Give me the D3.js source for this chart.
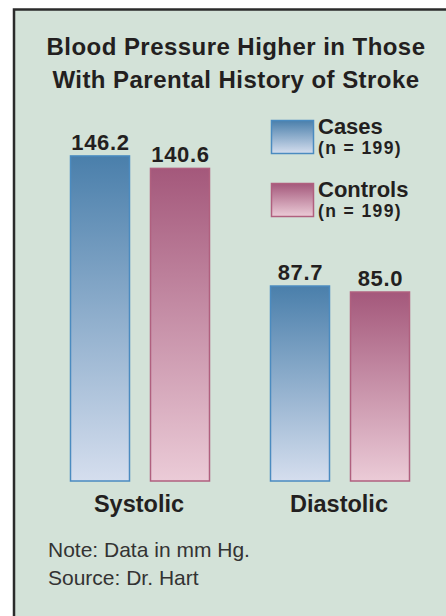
<!DOCTYPE html>
<html>
<head>
<meta charset="utf-8">
<script src="https://cdn.jsdelivr.net/npm/d3@7"></script>
<style>
  body { margin: 0; background: #fff; }
  text { font-family: "Liberation Sans", Arial, sans-serif; fill: #231f20; }
</style>
</head>
<body>
<div id="chart"></div>
<script>
// data
const categories = ["Systolic", "Diastolic"];
const seriesNames = ["Cases", "Controls"];
const seriesCounts = ["(n = 199)", "(n = 199)"];
const casesValues = [146.2, 87.7];
const controlsValues = [140.6, 85.0];
const titleLines = ["Blood Pressure Higher in Those", "With Parental History of Stroke"];
const noteLines = ["Note: Data in mm Hg.", "Source: Dr. Hart"];

const width = 446, height = 616;

const svg = d3.select("#chart")
    .append("svg")
    .attr("width", width)
    .attr("height", height);

// gradients for the two series
const defs = svg.append("defs");
const grads = [
    {id: "gCases", top: "#4a7fab", bottom: "#d5deee", stroke: "#4b8bc0"},
    {id: "gControls", top: "#a4587b", bottom: "#ebcbd7", stroke: "#b0607f"}
];
grads.forEach(g => {
    let lg = defs.append("linearGradient")
        .attr("id", g.id)
        .attr("x1", 0).attr("y1", 0)
        .attr("x2", 0).attr("y2", 1);
    lg.append("stop").attr("offset", "0%").attr("stop-color", g.top);
    lg.append("stop").attr("offset", "100%").attr("stop-color", g.bottom);
});

// panel background + frame
svg.append("rect")
    .attr("x", 14).attr("y", 9)
    .attr("width", width - 14).attr("height", height - 9)
    .attr("fill", "#d3e2d8");
svg.append("path")
    .attr("d", "M14," + height + "V9.5H" + width)
    .attr("fill", "none")
    .attr("stroke", "#2b2b2b")
    .attr("stroke-width", 2.5);

// title
svg.append("g")
    .selectAll("text")
    .data(titleLines)
    .enter().append("text")
    .attr("x", 236)
    .attr("y", (d, i) => 55 + i * 33)
    .attr("text-anchor", "middle")
    .style("font-size", "24px")
    .style("font-weight", "bold")
    .style("letter-spacing", "0.45px")
    .text(d => d);

// scales
const x0 = d3.scaleBand()
    .domain(categories)
    .range([40, 440])
    .paddingInner(0.3)
    .paddingOuter(0.15);

const x1 = d3.scaleBand()
    .domain(seriesNames)
    .range([0, x0.bandwidth()])
    .paddingInner(0.25);

const y = d3.scaleLinear()
    .domain([0, 150])
    .range([481, 147.5]);

const rows = categories.map((c, i) => ({
    category: c,
    values: [
        {series: "Cases", value: casesValues[i]},
        {series: "Controls", value: controlsValues[i]}
    ]
}));

const groups = svg.append("g")
    .attr("class", "bars")
    .selectAll("g")
    .data(rows)
    .enter().append("g")
    .attr("transform", d => "translate(" + x0(d.category) + ",0)");

groups.selectAll("rect")
    .data(d => d.values)
    .enter().append("rect")
    .attr("x", d => x1(d.series) + 0.5)
    .attr("y", d => y(d.value))
    .attr("width", x1.bandwidth() - 1)
    .attr("height", d => y(0) - y(d.value))
    .attr("fill", d => "url(#" + grads[seriesNames.indexOf(d.series)].id + ")")
    .attr("stroke", d => grads[seriesNames.indexOf(d.series)].stroke)
    .attr("stroke-width", 1.5);

groups.selectAll("text.value")
    .data(d => d.values)
    .enter().append("text")
    .attr("class", "value")
    .attr("x", d => x1(d.series) + x1.bandwidth() / 2 + 0.5)
    .attr("y", d => y(d.value) - 6)
    .attr("text-anchor", "middle")
    .style("font-size", "22px")
    .style("font-weight", "bold")
    .style("letter-spacing", "0.7px")
    .text(d => d.value.toFixed(1));

// category labels
svg.append("g")
    .selectAll("text")
    .data(categories)
    .enter().append("text")
    .attr("x", d => x0(d) + x0.bandwidth() / 2 - 1)
    .attr("y", 512)
    .attr("text-anchor", "middle")
    .style("font-size", "23.5px")
    .style("font-weight", "bold")
    .text(d => d);

// legend
const legend = svg.append("g")
    .attr("class", "legend")
    .selectAll("g")
    .data(seriesNames)
    .enter().append("g")
    .attr("transform", (d, i) => "translate(271," + (120 + i * 63) + ")");

legend.append("rect")
    .attr("x", 0.5).attr("y", 0.5)
    .attr("width", 42).attr("height", 33)
    .attr("fill", (d, i) => "url(#" + grads[i].id + ")")
    .attr("stroke", (d, i) => grads[i].stroke)
    .attr("stroke-width", 1.5);

legend.append("text")
    .attr("x", 47)
    .attr("y", 14)
    .style("font-size", "22px")
    .style("font-weight", "bold")
    .text(d => d);

legend.append("text")
    .attr("x", 47)
    .attr("y", 34)
    .style("font-size", "17.5px")
    .style("font-weight", "bold")
    .style("letter-spacing", "1.4px")
    .text((d, i) => seriesCounts[i]);

// notes
svg.append("g")
    .selectAll("text")
    .data(noteLines)
    .enter().append("text")
    .attr("x", 48)
    .attr("y", (d, i) => 557 + i * 28)
    .style("font-size", "21px")
    .style("fill", "#333")
    .text(d => d);
</script>
</body>
</html>
